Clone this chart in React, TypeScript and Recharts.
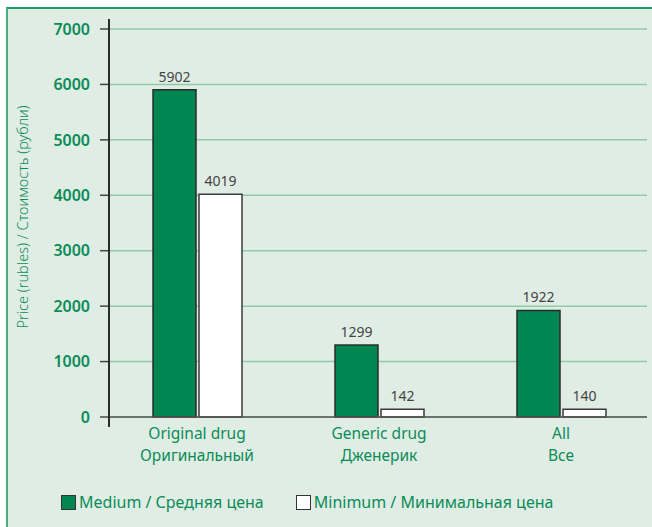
import React from "react";
import { BarChart, Bar, XAxis, YAxis, CartesianGrid, LabelList } from "recharts";

const categoriesEn = ["Original drug", "Generic drug", "All"];
const categoriesRu = ["Оригинальный", "Дженерик", "Все"];
const mediumPrices = [5902, 1299, 1922];
const minimumPrices = [4019, 142, 140];
const yTicks = [0, 1000, 2000, 3000, 4000, 5000, 6000, 7000];
const mediumName = "Medium / Средняя цена";
const minimumName = "Minimum / Минимальная цена";

const GREEN = "#008751";
const TEXT_GREEN = "#0b8c57";
const FONT = "'Noto Sans', 'Open Sans', sans-serif";

const data = categoriesEn.map((en, i) => ({
  en,
  ru: categoriesRu[i],
  medium: mediumPrices[i],
  minimum: minimumPrices[i],
}));

const CategoryTick = (props: any) => {
  const { x, y, payload } = props;
  const row = data[payload.index] || data.find((d) => d.en === payload.value);
  return (
    <g transform={`translate(${x},${y})`}>
      <text textAnchor="middle" fill={TEXT_GREEN} fontSize={15.5} fontFamily={FONT}>
        <tspan x={0} dy={14}>{row ? row.en : payload.value}</tspan>
        <tspan x={0} dy={22}>{row ? row.ru : ""}</tspan>
      </text>
    </g>
  );
};

const AxisTitle = (props: any) => {
  const { viewBox } = props;
  const cx = 15;
  const cy = viewBox.y + viewBox.height / 2 - 6;
  return (
    <text
      x={cx}
      y={cy}
      transform={`rotate(-90, ${cx}, ${cy})`}
      textAnchor="middle"
      dominantBaseline="central"
      fill={TEXT_GREEN}
      fontFamily={FONT}
      style={{ fontSize: 14.5, fontWeight: 300 }}
    >
      Price (rubles) / Стоимость (рубли)
    </text>
  );
};

export default function App() {
  return (
    <div
      style={{
        position: "fixed",
        left: 0,
        top: 0,
        width: 652,
        height: 527,
        background: "#ffffff",
        fontFamily: FONT,
      }}
    >
      <div
        style={{
          position: "absolute",
          left: 6,
          top: 7,
          width: 646,
          height: 520,
          background: "#e0ede5",
          borderTop: "2px solid #1e9a64",
          borderLeft: "2px solid #4caf80",
          boxSizing: "border-box",
        }}
      />
      <div style={{ position: "absolute", left: 7, top: 7 }}>
        <BarChart
          width={645}
          height={520}
          data={data}
          margin={{ top: 22, right: 5, left: 0, bottom: 50 }}
          barSize={43}
          barGap={3}
        >
          <CartesianGrid vertical={false} stroke="#8fcaa9" strokeWidth={1.5} />
          <XAxis
            dataKey="en"
            height={60}
            tickLine={false}
            axisLine={{ stroke: "#555555", strokeWidth: 1.5 }}
            tick={<CategoryTick />}
            interval={0}
            padding={{ left: -3, right: -5 }}
          />
          <YAxis
            width={102}
            domain={[0, 7000]}
            ticks={yTicks}
            interval={0}
            axisLine={false}
            tickLine={{ stroke: "#444444", strokeWidth: 1.5 }}
            tickSize={9}
            tickMargin={10}
            tick={{ fill: TEXT_GREEN, fontSize: 16, fontWeight: 600, fontFamily: FONT }}
            label={<AxisTitle />}
          />
          <Bar
            dataKey="medium"
            name={mediumName}
            fill={GREEN}
            stroke="#2b2b2b"
            strokeWidth={1.5}
            isAnimationActive={false}
          >
            <LabelList
              dataKey="medium"
              position="top"
              offset={8}
              fill="#444444"
              fontSize={14}
              fontFamily={FONT}
            />
          </Bar>
          <Bar
            dataKey="minimum"
            name={minimumName}
            fill="#ffffff"
            stroke="#3a3a3a"
            strokeWidth={1.5}
            isAnimationActive={false}
          >
            <LabelList
              dataKey="minimum"
              position="top"
              offset={8}
              fill="#444444"
              fontSize={14}
              fontFamily={FONT}
            />
          </Bar>
        </BarChart>
      </div>
      {/* y axis line extends a little past the plot */}
      <div
        style={{
          position: "absolute",
          left: 108,
          top: 19,
          width: 1.5,
          height: 408,
          background: "#2b2b2b",
        }}
      />
      <div
        style={{
          position: "absolute",
          left: 61,
          top: 491,
          display: "flex",
          alignItems: "center",
          color: TEXT_GREEN,
          fontSize: 16,
          whiteSpace: "nowrap",
        }}
      >
        <span
          style={{
            display: "inline-block",
            width: 13,
            height: 13,
            background: GREEN,
            border: "1.5px solid #333",
            marginRight: 3,
          }}
        />
        <span>{mediumName}</span>
        <span
          style={{
            display: "inline-block",
            width: 13,
            height: 13,
            background: "#fff",
            border: "1.5px solid #333",
            marginLeft: 32,
            marginRight: 3,
          }}
        />
        <span>{minimumName}</span>
      </div>
    </div>
  );
}
